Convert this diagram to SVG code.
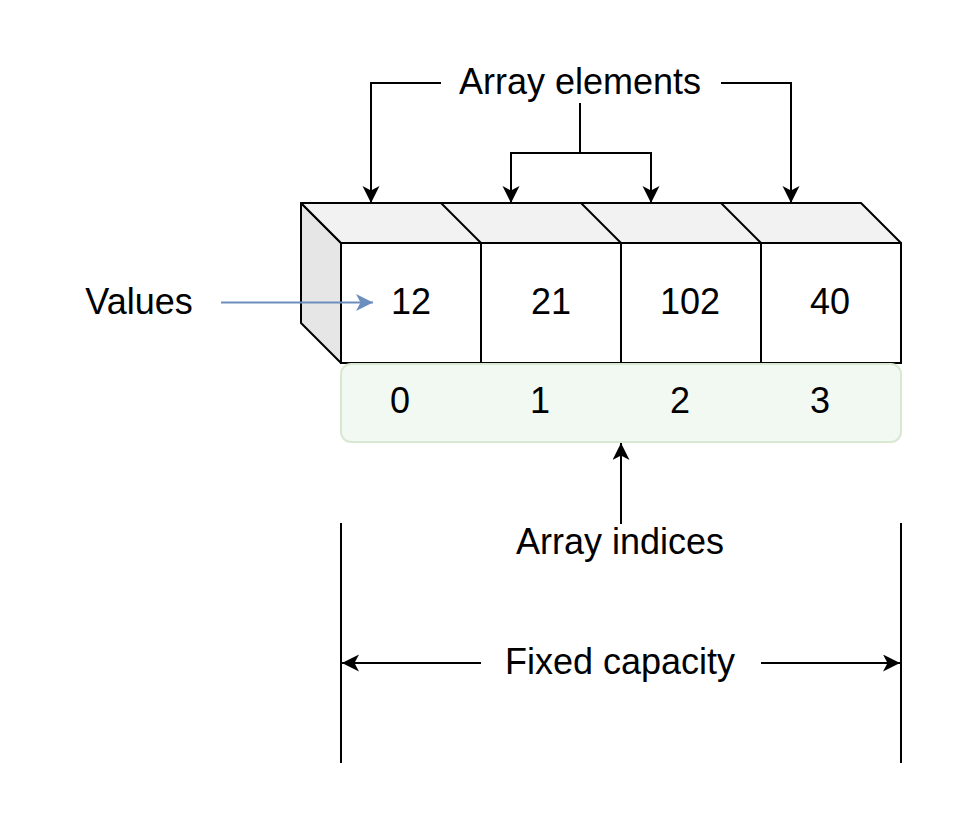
<svg xmlns="http://www.w3.org/2000/svg" width="978" height="826" viewBox="0 0 978 826">
  <defs>
    <marker id="arr" markerUnits="userSpaceOnUse" markerWidth="18" markerHeight="18" viewBox="0 0 18 18" refX="17" refY="8.5" orient="auto">
      <path d="M0,0 L17,8.5 L0,17 L4.5,8.5 Z" fill="#000"/>
    </marker>
    <marker id="arrBlue" markerUnits="userSpaceOnUse" markerWidth="18" markerHeight="18" viewBox="0 0 18 18" refX="17" refY="8.5" orient="auto">
      <path d="M0,0 L17,8.5 L0,17 L4.5,8.5 Z" fill="#6c8ebf"/>
    </marker>
  </defs>
  <style>
    text { font-family: "Liberation Sans", Arial, sans-serif; font-size: 36px; fill: #000; text-anchor: middle; }
    .edge { fill: none; stroke: #000; stroke-width: 2; }
    .cell { fill: #fff; stroke: #000; stroke-width: 2; }
  </style>
  <rect x="0" y="0" width="978" height="826" fill="#fff"/>

  <g id="array">
    <polygon points="301,203 341,243 341,363 301,323" fill="#e6e6e6" stroke="#000" stroke-width="2" stroke-linejoin="round"/>
    <polygon points="301,203 861,203 901,243 341,243" fill="#f2f2f2" stroke="#000" stroke-width="2" stroke-linejoin="round"/>
    <line x1="441" y1="203" x2="481" y2="243" stroke="#000" stroke-width="2"/>
    <line x1="581" y1="203" x2="621" y2="243" stroke="#000" stroke-width="2"/>
    <line x1="721" y1="203" x2="761" y2="243" stroke="#000" stroke-width="2"/>
  </g>
  <g id="cell0"><rect class="cell" x="341" y="243" width="140" height="120"/><text x="411" y="313.5">12</text></g>
  <g id="cell1"><rect class="cell" x="481" y="243" width="140" height="120"/><text x="551" y="313.5">21</text></g>
  <g id="cell2"><rect class="cell" x="621" y="243" width="140" height="120"/><text x="690" y="313.5">102</text></g>
  <g id="cell3"><rect class="cell" x="761" y="243" width="140" height="120"/><text x="830" y="313.5">40</text></g>

  <g id="indices">
    <rect x="341" y="364" width="560" height="78" rx="10" ry="10" fill="#f2f8f2" stroke="#d9e8d1" stroke-width="2"/>
    <text x="400" y="413">0</text>
    <text x="540" y="413">1</text>
    <text x="680" y="413">2</text>
    <text x="820" y="413">3</text>
  </g>

  <g id="label-elements"><text x="580" y="93.5">Array elements</text></g>
  <g id="label-values"><text x="139" y="313.5">Values</text></g>
  <g id="label-indices"><text x="620" y="553.5">Array indices</text></g>
  <g id="label-capacity"><text x="620" y="673.5">Fixed capacity</text></g>

  <g id="connectors">
    <polyline class="edge" points="441,83 371,83 371,203" marker-end="url(#arr)"/>
    <polyline class="edge" points="721,83 791,83 791,203" marker-end="url(#arr)"/>
    <polyline class="edge" points="580,103 580,153 511,153 511,203" marker-end="url(#arr)"/>
    <polyline class="edge" points="580,153 651,153 651,203" marker-end="url(#arr)"/>
    <line x1="221" y1="302.5" x2="373" y2="302.5" stroke="#6c8ebf" stroke-width="2" marker-end="url(#arrBlue)"/>
    <line class="edge" x1="621" y1="524" x2="621" y2="443" marker-end="url(#arr)"/>
    <line class="edge" x1="341" y1="523" x2="341" y2="763"/>
    <line class="edge" x1="901" y1="523" x2="901" y2="763"/>
    <line class="edge" x1="481" y1="663" x2="342" y2="663" marker-end="url(#arr)"/>
    <line class="edge" x1="761" y1="663" x2="900" y2="663" marker-end="url(#arr)"/>
  </g>
</svg>
